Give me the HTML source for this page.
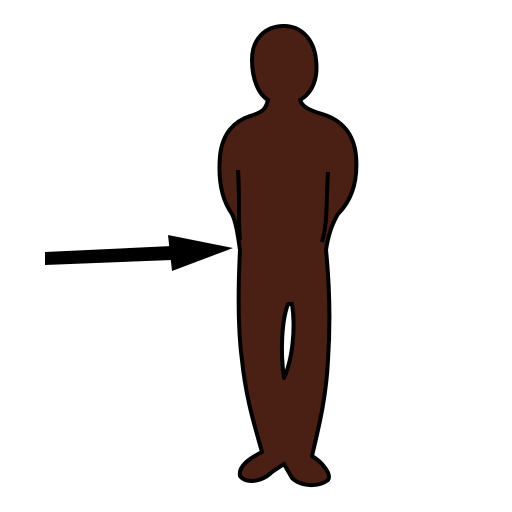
<!DOCTYPE html>
<html>
<head>
<meta charset="utf-8">
<style>
  html, body {
    margin: 0;
    padding: 0;
    background: #fff;
  }
  svg {
    display: block;
  }
</style>
</head>
<body>
<svg width="512" height="512" viewBox="0 0 512 512">
  <rect x="0" y="0" width="512" height="512" fill="#fff"/>

  <g>
    <polygon points="45,252 172,246 172,260 45,265" fill="#000"/>
    <polygon points="168,235 233,248 172,271" fill="#000"/>
  </g>

  <g fill="#4a1f14" stroke="#000" stroke-width="4" stroke-linejoin="round">
    <path d="
      M 268,100
      C 266,108 264,112 250,116
      C 232,122 222,136 220,156
      C 218,180 222,200 232,214
      C 236,222 238,236 240,250
      C 238,290 238,330 242,360
      C 246,400 256,430 262,452
      C 250,458 238,466 240,476
      C 246,484 262,482 272,472
      L 284,464
      L 292,478
      C 300,486 318,488 328,480
      C 332,474 322,462 312,456
      C 318,430 326,400 328,360
      C 330,330 330,290 326,250
      C 328,236 332,224 338,214
      C 352,200 358,180 356,156
      C 354,134 342,120 322,114
      C 308,110 302,106 300,100
      C 314,92 318,76 316,60
      C 314,38 300,26 284,26
      C 266,26 252,38 252,60
      C 252,78 258,94 268,100 Z"/>
    <path fill="#fff" d="
      M 288,304
      C 282,320 280,350 284,378
      C 292,360 296,330 292,304 Z"/>
    <path fill="none" d="M 238,170 C 240,200 238,222 240,240"/>
    <path fill="none" d="M 328,172 C 326,200 328,222 322,242"/>
  </g>
</svg>
</body>
</html>
